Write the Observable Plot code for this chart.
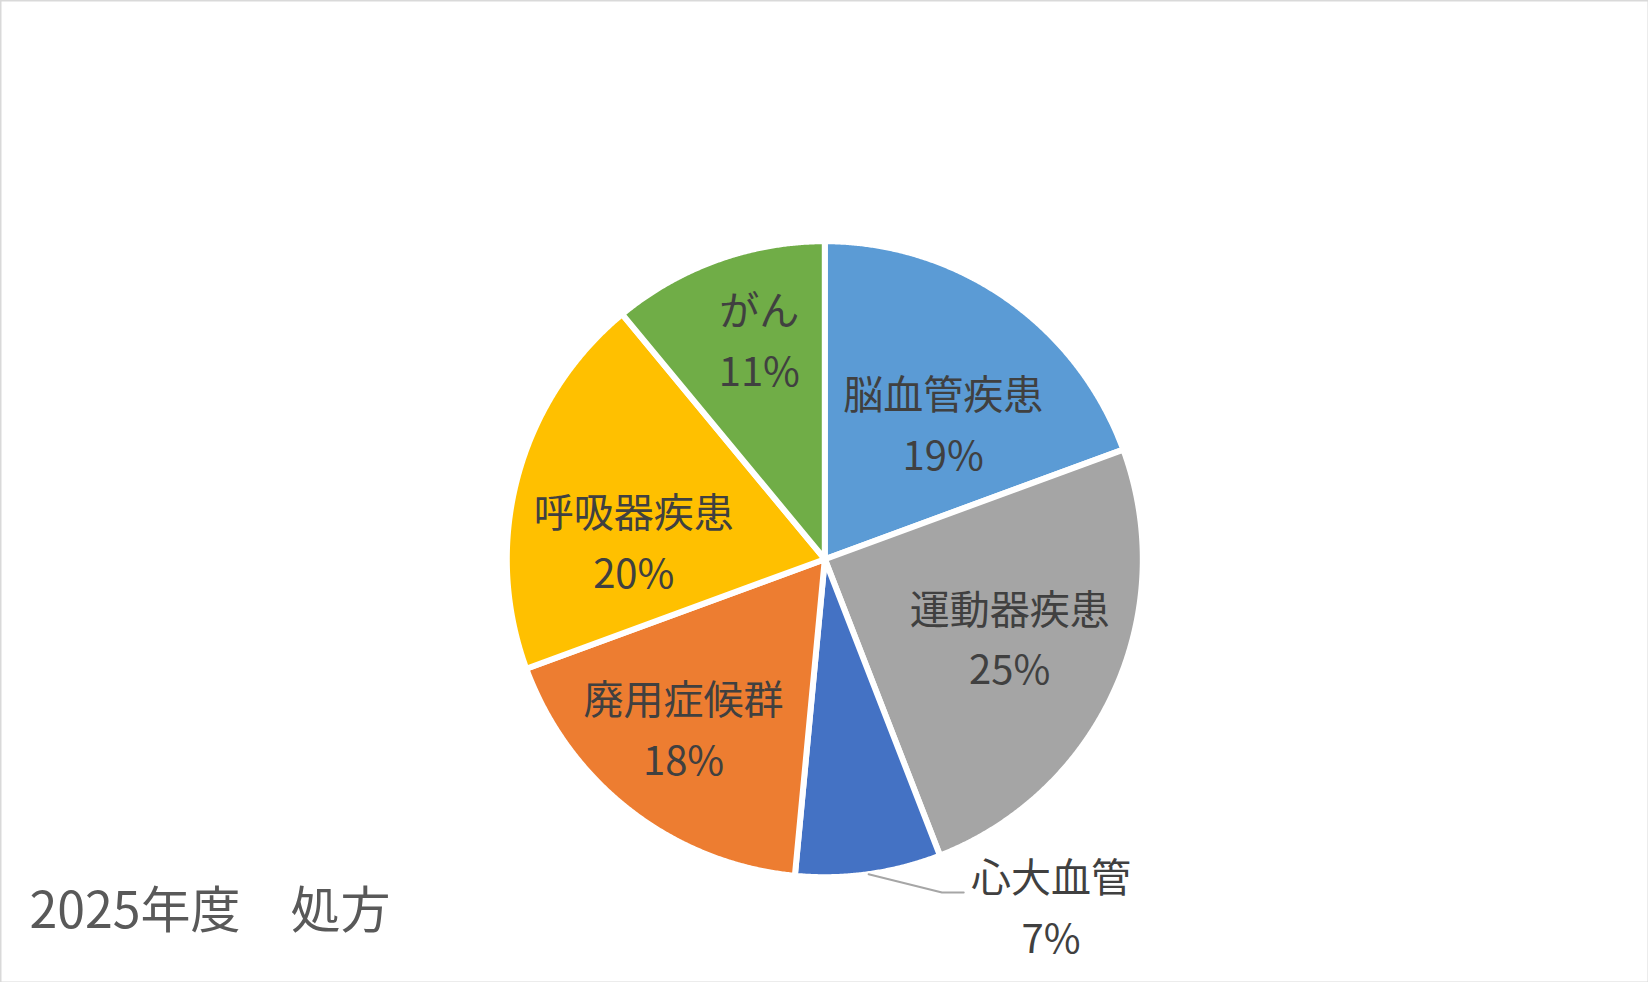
<!DOCTYPE html>
<html>
<head>
<meta charset="utf-8">
<script src="https://cdn.jsdelivr.net/npm/d3@7"></script>
<script src="https://cdn.jsdelivr.net/npm/@observablehq/plot@0.6"></script>
<style>
  html, body { margin: 0; padding: 0; background: #ffffff; }
  #chart { width: 1648px; height: 982px; }
</style>
</head>
<body>
<div id="chart"></div>
<script>
// ---- data ----
const categories = ["脳血管疾患", "運動器疾患", "心大血管", "廃用症候群", "呼吸器疾患", "がん"];
const values = [19.4, 24.7, 7.4, 17.9, 19.6, 11.0];
const colors = ["#5B9BD5", "#A5A5A5", "#4472C4", "#ED7D31", "#FFC000", "#70AD47"];
const title = "2025年度　処方";

// ---- layout (styling only) ----
const W = 1648, H = 982;
const cx = 824.3, cy = 558.7;     // pie centre, px
const unit = 318;                 // px per data unit (pie radius = 1)
const labelFrac = 0.645;
const labelNudge = [[1, 29], [-2, -9], [-2, -6], [-16, 3], [7, 32], [4, -30]]; // px, per category
const font = "'Noto Sans CJK JP', 'Noto Sans', sans-serif";

const total = d3.sum(values);
const arcs = d3.pie().sort(null).value(d => d)(values);

// slice polygons in data space (radius 1)
const slicePts = [];
arcs.forEach((a, i) => {
  const name = categories[i];
  slicePts.push({name, x: 0, y: 0});
  const n = Math.max(2, Math.ceil((a.endAngle - a.startAngle) / (Math.PI / 720)));
  for (let k = 0; k <= n; k++) {
    const t = a.startAngle + (a.endAngle - a.startAngle) * k / n;
    slicePts.push({name, x: Math.sin(t), y: Math.cos(t)});
  }
  slicePts.push({name, x: 0, y: 0});
});

const labels = [], leader = [];
arcs.forEach((a, i) => {
  const m = (a.startAngle + a.endAngle) / 2;
  const pct = Math.round(values[i] / total * 100);
  const text = categories[i] + "\n" + pct + "%";
  const [nx, ny] = labelNudge[i];
  if (values[i] / total >= 0.1) {
    labels.push({text, x: labelFrac * Math.sin(m), y: labelFrac * Math.cos(m), dx: nx, dy: ny});
  } else {
    const sx = Math.sin(m), sy = Math.cos(m);
    const ex = sx + 73.4 / unit, ey = sy - 18.3 / unit;
    const fx = ex + 21.7 / unit, fy = ey;
    leader.push({x: sx, y: sy}, {x: ex, y: ey}, {x: fx, y: fy});
    labels.push({text, x: fx + 89.3 / unit, y: fy - 16.8 / unit, dx: nx, dy: ny});
  }
});

const chart = Plot.plot({
  width: W,
  height: H,
  margin: 0,
  x: {domain: [-cx / unit, (W - cx) / unit], axis: null},
  y: {domain: [-(H - cy) / unit, cy / unit], axis: null},
  color: {domain: categories, range: colors},
  style: {fontFamily: font, background: "#ffffff"},
  marks: [
    Plot.frame({stroke: "#d9d9d9", strokeWidth: 2}),
    Plot.line(slicePts, {
      x: "x", y: "y", z: "name", fill: "name",
      stroke: "white", strokeWidth: 6, strokeLinejoin: "round", curve: "linear"
    }),
    Plot.line(leader, {x: "x", y: "y", stroke: "#a6a6a6", strokeWidth: 2}),
    ...labels.map(l => Plot.text([l], {
      x: "x", y: "y", text: "text", dx: l.dx, dy: l.dy, fontSize: 40, lineHeight: 1.52,
      fill: "#404040", textAnchor: "middle", lineAnchor: "middle", fontFamily: font
    })),
    Plot.text([title], {
      text: d => d, frameAnchor: "bottom-left", dx: 29, dy: -55,
      textAnchor: "start", lineAnchor: "bottom", fontSize: 50,
      fill: "#595959", fontFamily: font
    })
  ]
});

document.getElementById("chart").appendChild(chart);
</script>
</body>
</html>
